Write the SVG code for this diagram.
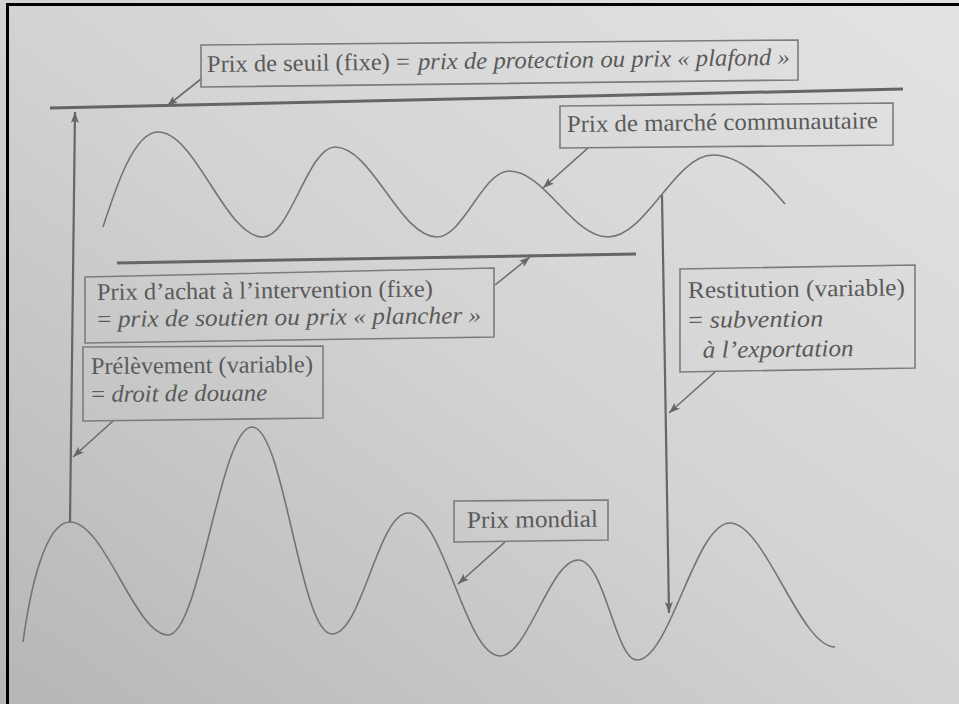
<svg xmlns="http://www.w3.org/2000/svg" width="959" height="704" viewBox="0 0 959 704">
<defs>
<linearGradient id="bg" x1="1" y1="0" x2="0" y2="1">
<stop offset="0" stop-color="#e3e3e3"/>
<stop offset="0.5" stop-color="#d3d3d3"/>
<stop offset="1" stop-color="#b6b6b6"/>
</linearGradient>
<marker id="ah" markerUnits="userSpaceOnUse" markerWidth="11" markerHeight="8" refX="11" refY="4" orient="auto">
<path d="M0,0 L11,4 L0,8 L2.5,4 z" fill="#666"/>
</marker>
<style>
.box{fill:none;stroke:#7c7c7c;stroke-width:1.6}
.t{font-family:"Liberation Serif","DejaVu Serif",serif;font-size:24px;fill:#5a5a5a}
.i{font-style:italic}
.curve{fill:none;stroke:#747474;stroke-width:1.6}
.level{fill:none;stroke:#656565;stroke-width:3}
.arr{fill:none;stroke:#6c6c6c;stroke-width:1.6;marker-end:url(#ah)}
.vert{fill:none;stroke:#666;stroke-width:2.2;marker-end:url(#ah)}
</style>
</defs>
<rect width="959" height="704" fill="url(#bg)"/>
<path d="M7.5,704 V4.5 H959" fill="none" stroke="#000" stroke-width="3"/>

<g id="levels">
<path class="level" d="M50,108 L903,89"/>
<path class="level" d="M117,263 L636,254"/>
</g>

<g id="curves">
<path id="prix-communautaire-curve" class="curve" d="M103,227 C116,187 134,132 158,132 C196,132 225,237 263,237 C290,237 308,147 335,147 C372,147 400,237 437,237 C463,237 483,171 509,171 C545,171 572,237 608,237 C646,237 675,155 713,155 C740,155 765,180 785,204"/>
<path id="prix-mondial-curve" class="curve" d="M23,642 C30,590 45,522 70,522 C105,522 135,635 168,635 C200,635 220,427 252,427 C284,427 300,634 332,634 C362,634 378,513 408,513 C444,513 465,656 500,656 C528,656 550,560 578,560 C605,560 615,660 637,660 C670,660 695,523 730,523 C765,523 800,647 835,647"/>
</g>

<g id="connectors">
<path class="arr" d="M201,79 L167,106"/>
<path class="vert" d="M70,522 L75,112"/>
<path class="arr" d="M588,148 L543,188"/>
<path class="arr" d="M495,285 L530,257"/>
<path class="arr" d="M113,421 L73,457"/>
<path class="arr" d="M715,372 L669,413"/>
<path class="vert" d="M662,195 L669,613"/>
<path class="arr" d="M505,542 L458,584"/>
</g>

<g id="prix-seuil">
<polygon class="box" points="201,45 798,40 798,80 201,87"/>
<g transform="rotate(-0.7 207 72)">
<text class="t" x="207" y="72" textLength="203" lengthAdjust="spacingAndGlyphs">Prix de seuil (fixe) =</text>
<text class="t i" x="418" y="72" textLength="372" lengthAdjust="spacingAndGlyphs">prix de protection ou prix « plafond »</text>
</g>
</g>

<g id="prix-marche">
<polygon class="box" points="560,106 893,103 893,145 560,148"/>
<text class="t" x="567" y="132" textLength="311" lengthAdjust="spacingAndGlyphs" transform="rotate(-0.7 567 132)">Prix de marché communautaire</text>
</g>

<g id="prix-intervention">
<polygon class="box" points="85,277 494,268 494,337 85,343"/>
<g transform="rotate(-0.6 97 300)">
<text class="t" x="97" y="300" textLength="336" lengthAdjust="spacingAndGlyphs">Prix d’achat à l’intervention (fixe)</text>
<text class="t" x="97" y="327" textLength="384" lengthAdjust="spacingAndGlyphs">= <tspan class="i">prix de soutien ou prix « plancher »</tspan></text>
</g>
</g>

<g id="prelevement">
<polygon class="box" points="83,347 323,346 323,418 83,421"/>
<g transform="rotate(-0.5 91 374)">
<text class="t" x="91" y="374" textLength="222" lengthAdjust="spacingAndGlyphs">Prélèvement (variable)</text>
<text class="t" x="91" y="402" textLength="176" lengthAdjust="spacingAndGlyphs">= <tspan class="i">droit de douane</tspan></text>
</g>
</g>

<g id="restitution">
<polygon class="box" points="680,269 915,265 915,368 680,372"/>
<g transform="rotate(-0.7 688 298)">
<text class="t" x="688" y="298" textLength="217" lengthAdjust="spacingAndGlyphs">Restitution (variable)</text>
<text class="t" x="688" y="328" textLength="135" lengthAdjust="spacingAndGlyphs">= <tspan class="i">subvention</tspan></text>
<text class="t i" x="702" y="358" textLength="151" lengthAdjust="spacingAndGlyphs">à l’exportation</text>
</g>
</g>

<g id="prix-mondial">
<polygon class="box" points="454,501 608,500 608,540 454,542"/>
<text class="t" x="467" y="528" textLength="131" lengthAdjust="spacingAndGlyphs" transform="rotate(-0.6 467 528)">Prix mondial</text>
</g>
</svg>
